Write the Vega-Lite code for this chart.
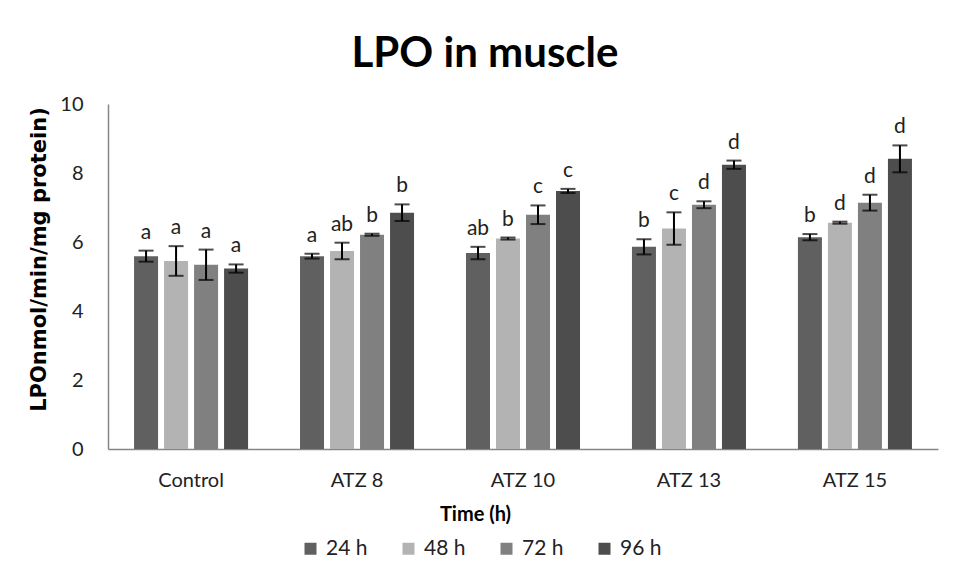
{
  "$schema": "https://vega.github.io/schema/vega-lite/v6.json",
  "width": 830,
  "height": 345,
  "autosize": {"type": "none"},
  "padding": {"left": 108, "top": 104, "right": 18, "bottom": 130},
  "background": "white",
  "config": {"view": {"stroke": null}, "font": "Lato"},
  "title": {"text": "LPO in muscle", "font": "Lato", "fontSize": 42, "fontWeight": "bold", "color": "#000000", "anchor": "middle", "dx": -38, "offset": 18},
  "data": {"values": [
    {"group": "Control", "time": "24 h", "value": 5.59, "lo": 5.43, "hi": 5.75, "letter": "a"},
    {"group": "Control", "time": "48 h", "value": 5.45, "lo": 5.02, "hi": 5.88, "letter": "a"},
    {"group": "Control", "time": "72 h", "value": 5.34, "lo": 4.90, "hi": 5.78, "letter": "a"},
    {"group": "Control", "time": "96 h", "value": 5.23, "lo": 5.11, "hi": 5.35, "letter": "a"},
    {"group": "ATZ 8", "time": "24 h", "value": 5.59, "lo": 5.52, "hi": 5.66, "letter": "a"},
    {"group": "ATZ 8", "time": "48 h", "value": 5.74, "lo": 5.50, "hi": 5.98, "letter": "ab"},
    {"group": "ATZ 8", "time": "72 h", "value": 6.21, "lo": 6.18, "hi": 6.24, "letter": "b"},
    {"group": "ATZ 8", "time": "96 h", "value": 6.85, "lo": 6.61, "hi": 7.09, "letter": "b"},
    {"group": "ATZ 10", "time": "24 h", "value": 5.68, "lo": 5.50, "hi": 5.86, "letter": "ab"},
    {"group": "ATZ 10", "time": "48 h", "value": 6.10, "lo": 6.07, "hi": 6.13, "letter": "b"},
    {"group": "ATZ 10", "time": "72 h", "value": 6.79, "lo": 6.52, "hi": 7.06, "letter": "c"},
    {"group": "ATZ 10", "time": "96 h", "value": 7.48, "lo": 7.42, "hi": 7.54, "letter": "c"},
    {"group": "ATZ 13", "time": "24 h", "value": 5.86, "lo": 5.64, "hi": 6.08, "letter": "b"},
    {"group": "ATZ 13", "time": "48 h", "value": 6.39, "lo": 5.92, "hi": 6.86, "letter": "c"},
    {"group": "ATZ 13", "time": "72 h", "value": 7.08, "lo": 6.98, "hi": 7.18, "letter": "d"},
    {"group": "ATZ 13", "time": "96 h", "value": 8.24, "lo": 8.12, "hi": 8.36, "letter": "d"},
    {"group": "ATZ 15", "time": "24 h", "value": 6.14, "lo": 6.05, "hi": 6.23, "letter": "b"},
    {"group": "ATZ 15", "time": "48 h", "value": 6.56, "lo": 6.53, "hi": 6.59, "letter": "d"},
    {"group": "ATZ 15", "time": "72 h", "value": 7.14, "lo": 6.91, "hi": 7.37, "letter": "d"},
    {"group": "ATZ 15", "time": "96 h", "value": 8.41, "lo": 8.02, "hi": 8.80, "letter": "d"}
  ]},
  "encoding": {
    "x": {
      "field": "group", "type": "nominal",
      "sort": ["Control", "ATZ 8", "ATZ 10", "ATZ 13", "ATZ 15"],
      "scale": {"paddingInner": 0.313, "paddingOuter": 0.157},
      "axis": {
        "title": "Time (h)", "titleFont": "Lato", "titleFontSize": 20, "titleFontWeight": "bold", "titleColor": "#000000",
        "titleX": 367, "titleY": 71, "titleBaseline": "alphabetic", "titleAlign": "center",
        "labelAngle": 0, "labelFont": "Lato", "labelFontSize": 20, "labelColor": "#222222",
        "labelBaseline": "alphabetic", "labelPadding": 37,
        "ticks": false, "tickSize": 0, "domainColor": "#868686", "domainWidth": 1.5
      }
    },
    "xOffset": {
      "field": "time", "type": "nominal",
      "sort": ["24 h", "48 h", "72 h", "96 h"],
      "scale": {"paddingInner": 0.2, "paddingOuter": 0}
    }
  },
  "layer": [
    {
      "mark": {"type": "bar"},
      "encoding": {
        "y": {
          "field": "value", "type": "quantitative",
          "scale": {"domain": [0, 10], "nice": false},
          "axis": {
            "title": "LPOnmol/min/mg protein)", "titleFont": "DejaVu Sans", "titleFontSize": 21, "titleFontWeight": "bold", "titleColor": "#000000",
            "titleX": -69, "titleY": 155, "titleAngle": -90, "titleAlign": "center", "titleBaseline": "middle",
            "values": [0, 2, 4, 6, 8, 10], "labelFont": "Lato", "labelFontSize": 20, "labelColor": "#222222", "labelPadding": 25,
            "ticks": false, "tickSize": 0, "grid": false, "domainColor": "#868686", "domainWidth": 1.5
          }
        },
        "color": {
          "field": "time", "type": "nominal",
          "sort": ["24 h", "48 h", "72 h", "96 h"],
          "scale": {"domain": ["24 h", "48 h", "72 h", "96 h"], "range": ["#606060", "#b3b3b3", "#808080", "#4d4d4d"]},
          "legend": {
            "orient": "none", "legendX": 192, "legendY": 434, "direction": "horizontal", "columns": 4,
            "title": null, "symbolType": "square", "symbolSize": 144, "symbolStrokeWidth": 0,
            "labelFont": "Lato", "labelFontSize": 21, "labelColor": "#222222", "columnPadding": 30, "labelOffset": 5, "padding": 0
          }
        }
      }
    },
    {
      "mark": {"type": "rule", "color": "#000000", "strokeWidth": 2},
      "encoding": {
        "y": {"field": "lo", "type": "quantitative"},
        "y2": {"field": "hi"}
      }
    },
    {
      "mark": {"type": "tick", "orient": "horizontal", "color": "#000000", "thickness": 2, "size": 15},
      "encoding": {"y": {"field": "lo", "type": "quantitative"}}
    },
    {
      "mark": {"type": "tick", "orient": "horizontal", "color": "#000000", "thickness": 2, "size": 15},
      "encoding": {"y": {"field": "hi", "type": "quantitative"}}
    },
    {
      "mark": {"type": "text", "dy": -12, "baseline": "alphabetic", "font": "Lato", "fontSize": 21, "color": "#222222"},
      "encoding": {
        "y": {"field": "hi", "type": "quantitative"},
        "text": {"field": "letter"}
      }
    }
  ]
}
